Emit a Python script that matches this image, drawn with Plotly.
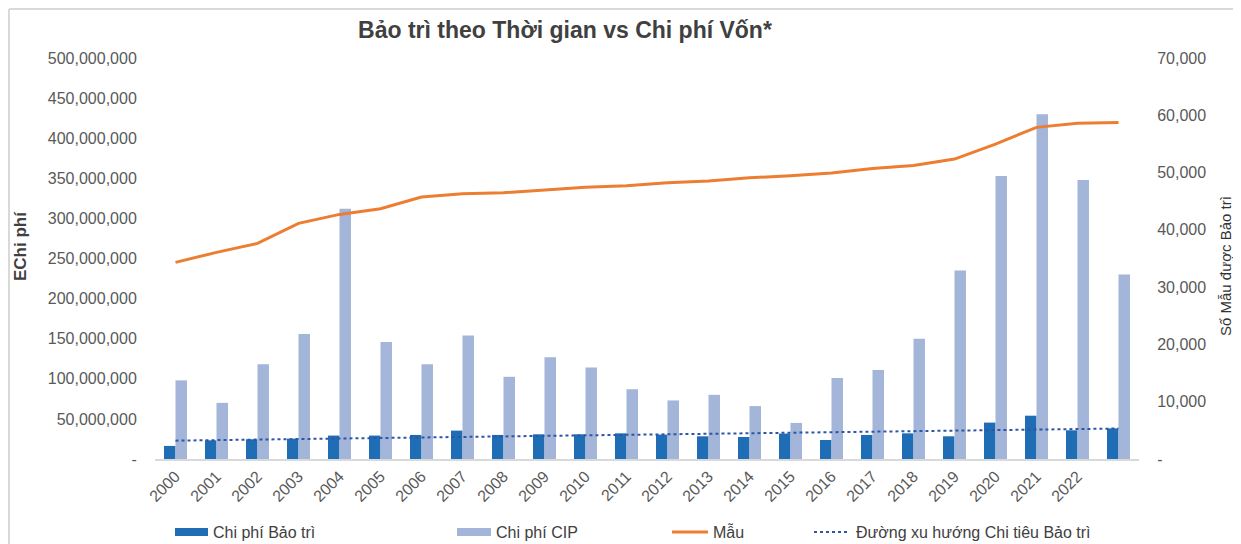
import plotly.graph_objects as go

# data
years = list(range(2000, 2024))
tick_labels = [str(y) for y in years[:-1]] + [""]

maint_cost = [16.3e6, 23.3e6, 24.6e6, 25.4e6, 29.2e6, 29.2e6, 30.0e6, 35.4e6,
              30.0e6, 30.8e6, 30.8e6, 32.0e6, 30.4e6, 28.3e6, 27.5e6, 31.7e6,
              23.7e6, 30.0e6, 32.0e6, 28.3e6, 45.4e6, 54.0e6, 35.8e6, 38.2e6]

cip_cost = [98e6, 70e6, 118e6, 156e6, 312e6, 146e6, 118e6, 154e6,
            102.5e6, 127e6, 114e6, 87e6, 73e6, 80e6, 66e6, 45e6,
            101e6, 111e6, 150e6, 235e6, 353e6, 430e6, 348e6, 230e6]

units = [34330, 36070, 37640, 41130, 42700, 43680, 45720, 46300,
         46480, 46950, 47420, 47700, 48220, 48520, 49100, 49440,
         49910, 50730, 51250, 52360, 54970, 57890, 58590, 58760]

trend_years = [2000, 2023]
trend_values = [22.9e6, 38.0e6]

left_ticks = [0, 50e6, 100e6, 150e6, 200e6, 250e6, 300e6, 350e6, 400e6, 450e6, 500e6]
left_labels = ["-", "50,000,000", "100,000,000", "150,000,000", "200,000,000",
               "250,000,000", "300,000,000", "350,000,000", "400,000,000",
               "450,000,000", "500,000,000"]
right_ticks = [0, 10000, 20000, 30000, 40000, 50000, 60000, 70000]
right_labels = ["-", "10,000", "20,000", "30,000", "40,000", "50,000", "60,000", "70,000"]

DARK = "#1F6DB4"
LIGHT = "#A3B5D8"
ORANGE = "#ED7D31"
TREND = "#2F55A4"
GREY = "#595959"
FONT = "Liberation Sans"

# the page body adds an 8px margin, so the figure is made smaller to fit the window
OFF = 8
SCREEN_W, SCREEN_H = 1241, 544
W, H = SCREEN_W - OFF, SCREEN_H - OFF
# plot area in screen pixels
L, R, T, B = 155, 1139, 58, 459


def px(x):
    return (x - L) / (R - L)


def py(y):
    return (B - y) / (B - T)


fig = go.Figure()

fig.add_trace(go.Bar(x=years, y=maint_cost, name="Chi phí Bảo trì",
                     marker=dict(color=DARK, line=dict(width=0)), showlegend=False))
fig.add_trace(go.Bar(x=years, y=cip_cost, name="Chi phí CIP",
                     marker=dict(color=LIGHT, line=dict(width=0)), showlegend=False))
fig.add_trace(go.Scatter(x=years, y=units, name="Mẫu", yaxis="y2", mode="lines",
                         line=dict(color=ORANGE, width=3), showlegend=False))
fig.add_trace(go.Scatter(x=trend_years, y=trend_values, name="Đường xu hướng Chi tiêu Bảo trì",
                         mode="lines", line=dict(color=TREND, width=2, dash="dot"),
                         showlegend=False))

fig.update_layout(
    width=W, height=H,
    margin=dict(l=L - OFF, r=SCREEN_W - R, t=T - OFF, b=SCREEN_H - B),
    paper_bgcolor="white", plot_bgcolor="white",
    font=dict(family=FONT, color=GREY, size=16),
    barmode="group", bargap=0.44, bargroupgap=0,
    title=dict(text="<b>Bảo trì theo Thời gian vs Chi phí Vốn*</b>",
               x=(565 - OFF) / W, xanchor="center", xref="container",
               y=1 - (30 - OFF) / H, yanchor="middle", yref="container",
               font=dict(family=FONT, size=23, color="#404040")),
    xaxis=dict(range=[1999.5, 2023.5], tickvals=years, ticktext=tick_labels,
               tickangle=-45, showgrid=False, zeroline=False,
               showline=True, linecolor="#D9D9D9", linewidth=1.5,
               ticks="", tickfont=dict(size=16, color=GREY), automargin=False),
    yaxis=dict(range=[0, 500e6], tickvals=left_ticks, ticktext=left_labels,
               showgrid=False, zeroline=False, showline=False,
               ticks="outside", ticklen=14, tickcolor="rgba(0,0,0,0)",
               tickfont=dict(size=16, color=GREY), automargin=False),
    yaxis2=dict(range=[0, 70000], tickvals=right_ticks, ticktext=right_labels,
                overlaying="y", side="right", showgrid=False, zeroline=False,
                ticks="outside", ticklen=14, tickcolor="rgba(0,0,0,0)",
                tickfont=dict(size=16, color=GREY), automargin=False),
)

# axis titles
fig.add_annotation(text="<b>EChi phí</b>", textangle=-90, showarrow=False,
                   xref="paper", yref="paper", x=px(20), y=py(246),
                   xanchor="center", yanchor="middle",
                   font=dict(size=17, color="#404040"))
fig.add_annotation(text="Số Mẫu được Bảo trì", textangle=-90, showarrow=False,
                   xref="paper", yref="paper", x=px(1225), y=py(266),
                   xanchor="center", yanchor="middle",
                   font=dict(size=15, color="#333333"))

# frame lines on the left and top
fig.add_shape(type="line", xref="paper", yref="paper", x0=px(9), x1=px(9),
              y0=py(9), y1=py(SCREEN_H), line=dict(color="#D9D9D9", width=2))
fig.add_shape(type="line", xref="paper", yref="paper", x0=px(9), x1=px(SCREEN_W),
              y0=py(9), y1=py(9), line=dict(color="#D9D9D9", width=2))

# legend along the bottom
ly = 532
fig.add_shape(type="rect", xref="paper", yref="paper", x0=px(175), x1=px(208),
              y0=py(ly - 4), y1=py(ly + 4), fillcolor=DARK, line=dict(width=0))
fig.add_shape(type="rect", xref="paper", yref="paper", x0=px(457), x1=px(491),
              y0=py(ly - 4), y1=py(ly + 4), fillcolor=LIGHT, line=dict(width=0))
fig.add_shape(type="line", xref="paper", yref="paper", x0=px(672), x1=px(708),
              y0=py(ly), y1=py(ly), line=dict(color=ORANGE, width=3))
fig.add_shape(type="line", xref="paper", yref="paper", x0=px(814), x1=px(849),
              y0=py(ly), y1=py(ly), line=dict(color=TREND, width=2, dash="dot"))

legend_items = [("Chi phí Bảo trì", 211), ("Chi phí CIP", 494),
                ("Mẫu", 711), ("Đường xu hướng Chi tiêu Bảo trì", 854)]
for text, x in legend_items:
    fig.add_annotation(text=text, showarrow=False, xref="paper", yref="paper",
                       x=px(x), y=py(ly), xanchor="left", yanchor="middle",
                       font=dict(size=16, color="#404040"))

fig.write_html("out.html")
